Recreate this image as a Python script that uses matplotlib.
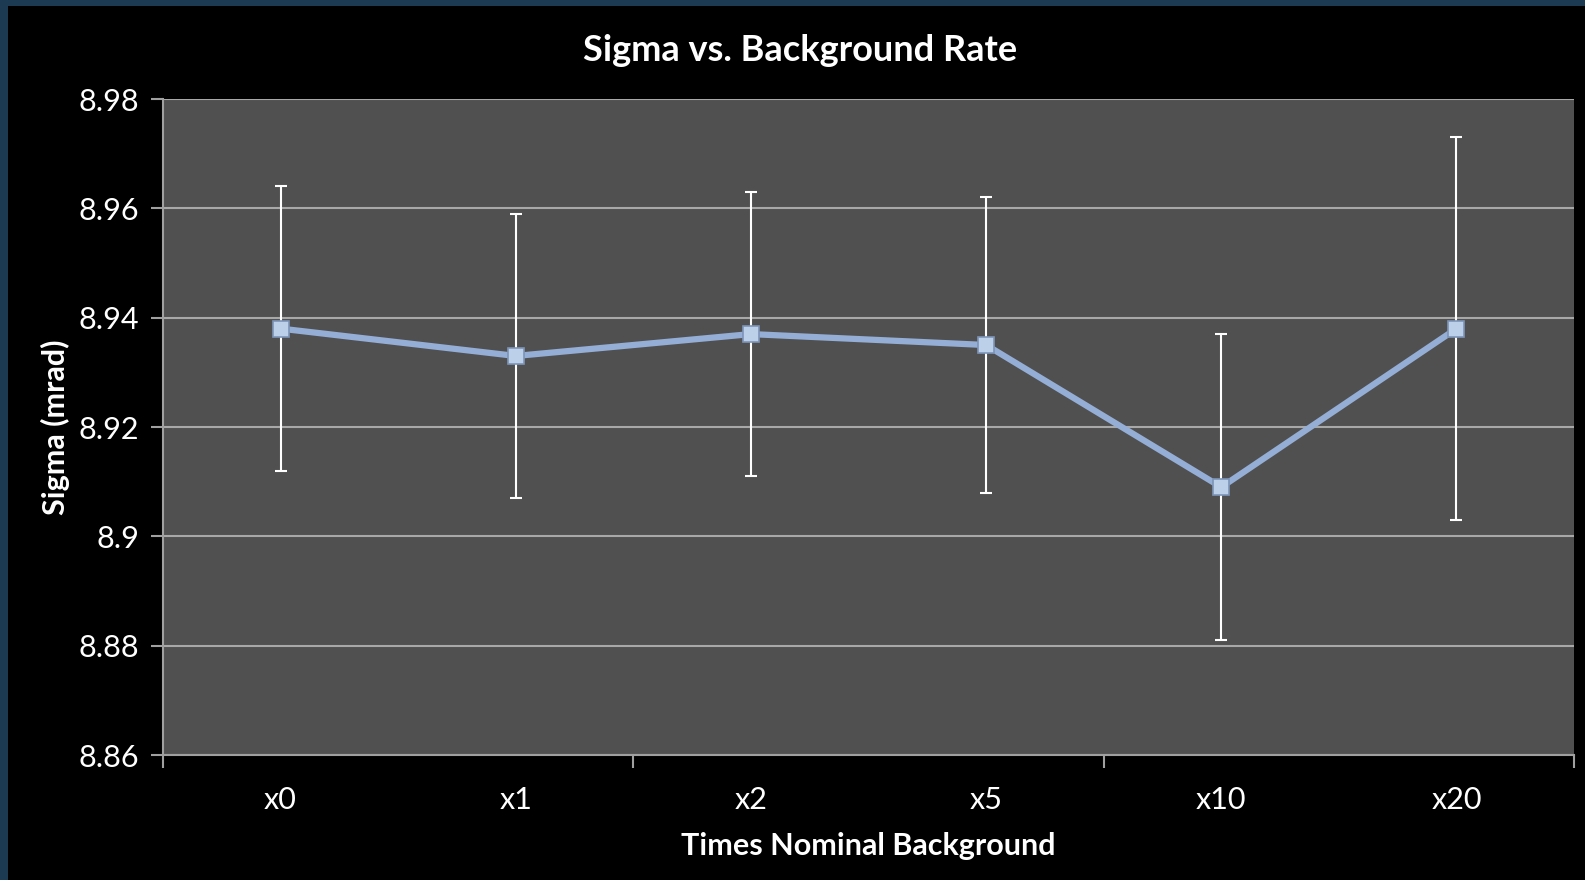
import matplotlib.pyplot as plt
from matplotlib.patches import Rectangle

categories = ['x0', 'x1', 'x2', 'x5', 'x10', 'x20']
sigma = [8.938, 8.933, 8.937, 8.935, 8.909, 8.938]
sigma_err = [0.026, 0.026, 0.026, 0.027, 0.028, 0.035]
y_ticks = [8.86, 8.88, 8.90, 8.92, 8.94, 8.96, 8.98]
y_tick_labels = ['8.86', '8.88', '8.9', '8.92', '8.94', '8.96', '8.98']

plt.rcParams['font.family'] = ['Lato', 'DejaVu Sans']


def main():
    fig = plt.figure(figsize=(15.85, 8.80), dpi=100)
    fig.patch.set_facecolor('#1c3a52')
    # black slide area inside the thin blue frame
    fig.patches.append(Rectangle((8 / 1585, 0), 1, 1 - 6 / 880,
                                 transform=fig.transFigure,
                                 facecolor='black', edgecolor='none',
                                 zorder=-10))

    ax = fig.add_axes([0.1028, 0.1420, 0.8903, 0.7455])
    ax.set_facecolor('#505050')

    xs = list(range(len(categories)))
    ax.errorbar(xs, sigma, yerr=sigma_err, fmt='none', ecolor='white',
                elinewidth=1.5, capsize=4, capthick=1.5, zorder=3)
    ax.plot(xs, sigma, color='#95aed6', lw=4.5, marker='s', markersize=12,
            markerfacecolor='#bcd0ea', markeredgecolor='#7d94b8',
            markeredgewidth=1.2, zorder=4)

    ax.set_xlim(-0.5, len(categories) - 0.5)
    ax.set_ylim(8.86, 8.98)
    ax.set_yticks(y_ticks)
    ax.set_yticklabels(y_tick_labels)
    ax.set_xticks(xs)
    ax.set_xticklabels(categories)
    ax.set_xticks([-0.5, 1.5, 3.5, 5.5], minor=True)

    ax.grid(axis='y', color='#a8a8a8', lw=1.5, zorder=1)
    ax.set_axisbelow(True)

    for side in ['top', 'right']:
        ax.spines[side].set_visible(False)
    for side in ['left', 'bottom']:
        ax.spines[side].set_color('#a0a0a0')
        ax.spines[side].set_linewidth(1.5)

    ax.tick_params(axis='y', colors='#a0a0a0', labelcolor='white',
                   labelsize=22, length=9, width=1.5, pad=8)
    ax.tick_params(axis='x', which='major', length=0, labelcolor='white',
                   labelsize=22, pad=22)
    ax.tick_params(axis='x', which='minor', length=9, width=1.5,
                   color='#a0a0a0')

    fig.text(800 / 1585, 1 - 50.5 / 880, 'Sigma vs. Background Rate',
             color='white', fontsize=26, fontweight='bold',
             ha='center', va='center')
    ax.set_xlabel('Times Nominal Background', color='white', fontsize=22,
                  fontweight='bold', labelpad=13)
    ax.set_ylabel('Sigma (mrad)', color='white', fontsize=22,
                  fontweight='bold', labelpad=6)

    fig.savefig('out.png', dpi=100, facecolor=fig.get_facecolor())


main()
